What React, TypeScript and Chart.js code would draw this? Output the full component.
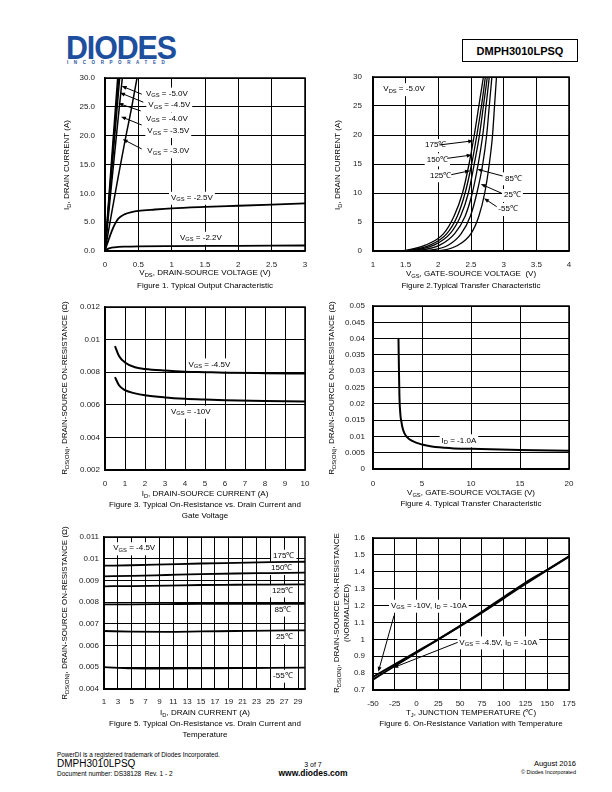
import React, { useEffect, useRef } from "react";
import { Chart, registerables } from "chart.js";
Chart.register(...registerables);

const FONT = "'Liberation Sans', Arial, Helvetica, sans-serif";

// ---------------- Figure 1 data ----------------
const f1XTicks = [0, 0.5, 1, 1.5, 2, 2.5, 3];
const f1XLabels = ["0", "0.5", "1", "1.5", "2", "2.5", "3"];
const f1YTicks = [0, 5, 10, 15, 20, 25, 30];
const f1YLabels = ["0.0", "5.0", "10.0", "15.0", "20.0", "25.0", "30.0"];
const f1VdsGs50 = [0, 0.1, 0.19];
const f1IdGs50 = [0, 16, 30];
const f1VdsGs45 = [0, 0.1, 0.205];
const f1IdGs45 = [0, 14.8, 30];
const f1VdsGs40 = [0, 0.1, 0.22];
const f1IdGs40 = [0, 13.8, 30];
const f1VdsGs35 = [0, 0.1, 0.2, 0.26];
const f1IdGs35 = [0, 11.8, 23.3, 30];
const f1VdsGs30 = [0, 0.1, 0.2, 0.3, 0.4, 0.48];
const f1IdGs30 = [0, 6.6, 13.0, 19.1, 24.9, 30];
const f1VdsGs25 = [0, 0.025, 0.05, 0.1, 0.15, 0.2, 0.3, 0.4, 0.5, 0.75, 1, 1.5, 2, 2.5, 3];
const f1IdGs25 = [0, 1.0, 1.8, 3.4, 4.7, 5.6, 6.4, 6.75, 6.95, 7.2, 7.4, 7.65, 7.85, 8.05, 8.25];
const f1VdsGs22 = [0, 0.025, 0.05, 0.1, 0.2, 0.3, 0.5, 1, 2, 3];
const f1IdGs22 = [0, 0.25, 0.4, 0.58, 0.7, 0.75, 0.8, 0.85, 0.9, 0.95];

// ---------------- Figure 2 data ----------------
const f2XTicks = [1, 1.5, 2, 2.5, 3, 3.5, 4];
const f2XLabels = ["1", "1.5", "2", "2.5", "3", "3.5", "4"];
const f2YTicks = [0, 5, 10, 15, 20, 25, 30];
const f2YLabels = ["0", "5", "10", "15", "20", "25", "30"];
const f2Id = [0, 0.1, 1, 3, 6, 10, 15, 20, 25, 30];
const f2Vgs175 = [1.35, 1.5, 1.8, 2.08, 2.24, 2.37, 2.47, 2.55, 2.62, 2.69];
const f2Vgs150 = [1.4, 1.55, 1.87, 2.13, 2.29, 2.41, 2.51, 2.59, 2.66, 2.72];
const f2Vgs125 = [1.45, 1.6, 1.93, 2.18, 2.34, 2.46, 2.55, 2.63, 2.69, 2.75];
const f2Vgs85 = [1.55, 1.7, 2.02, 2.25, 2.41, 2.52, 2.61, 2.68, 2.73, 2.78];
const f2Vgs25 = [1.7, 1.85, 2.15, 2.35, 2.49, 2.59, 2.68, 2.74, 2.78, 2.82];
const f2VgsM55 = [1.9, 2.05, 2.3, 2.5, 2.62, 2.71, 2.78, 2.83, 2.86, 2.89];

// ---------------- Figure 3 data ----------------
const f3XTicks = [0, 1, 2, 3, 4, 5, 6, 7, 8, 9, 10];
const f3XLabels = ["0", "1", "2", "3", "4", "5", "6", "7", "8", "9", "10"];
const f3YTicks = [0.002, 0.004, 0.006, 0.008, 0.01, 0.012];
const f3YLabels = ["0.002", "0.004", "0.006", "0.008", "0.01", "0.012"];
const f3Id = [0.5, 0.7, 1, 1.5, 2, 3, 4, 5, 6, 8, 10];
const f3RGs45 = [0.0096, 0.009, 0.0086, 0.0083, 0.0082, 0.0081, 0.00803, 0.008, 0.00797, 0.00794, 0.00792];
const f3RGs10 = [0.0077, 0.0072, 0.0069, 0.0067, 0.00658, 0.00645, 0.00637, 0.00632, 0.00628, 0.00624, 0.0062];

// ---------------- Figure 4 data ----------------
const f4XTicks = [0, 5, 10, 15, 20];
const f4XLabels = ["0", "5", "10", "15", "20"];
const f4YTicks = [0, 0.005, 0.01, 0.015, 0.02, 0.025, 0.03, 0.035, 0.04, 0.045, 0.05];
const f4YLabels = ["0", "0.005", "0.01", "0.015", "0.02", "0.025", "0.03", "0.035", "0.04", "0.045", "0.05"];
const f4Vgs = [2.6, 2.65, 2.7, 2.8, 2.9, 3.0, 3.2, 3.5, 4, 5, 6, 8, 10, 15, 20];
const f4R = [0.04, 0.03, 0.022, 0.0165, 0.0145, 0.0128, 0.011, 0.0097, 0.0086, 0.0075, 0.0069, 0.0064, 0.0062, 0.0058, 0.0056];

// ---------------- Figure 5 data ----------------
const f5XTicks = [1, 3, 5, 7, 9, 11, 13, 15, 17, 19, 21, 23, 25, 27, 29];
const f5XLabels = ["1", "3", "5", "7", "9", "11", "13", "15", "17", "19", "21", "23", "25", "27", "29"];
const f5YTicks = [0.004, 0.005, 0.006, 0.007, 0.008, 0.009, 0.01, 0.011];
const f5YLabels = ["0.004", "0.005", "0.006", "0.007", "0.008", "0.009", "0.01", "0.011"];
const f5Id = [1, 5, 10, 15, 20, 25, 30];
const f5R175 = [0.00968, 0.0097, 0.00974, 0.00978, 0.00981, 0.00984, 0.00986];
const f5R150 = [0.00919, 0.00921, 0.00925, 0.00929, 0.00932, 0.00934, 0.00936];
const f5R125 = [0.00873, 0.00874, 0.00876, 0.00879, 0.0088, 0.00881, 0.00882];
const f5R85 = [0.0079, 0.0079, 0.00791, 0.00792, 0.00792, 0.00792, 0.00792];
const f5R25 = [0.00667, 0.00664, 0.00663, 0.00665, 0.00667, 0.00669, 0.0067];
const f5RM55 = [0.00501, 0.00495, 0.00494, 0.00495, 0.00496, 0.00497, 0.00498];

// ---------------- Figure 6 data ----------------
const f6XTicks = [-50, -25, 0, 25, 50, 75, 100, 125, 150, 175];
const f6XLabels = ["-50", "-25", "0", "25", "50", "75", "100", "125", "150", "175"];
const f6YTicks = [0.7, 0.8, 0.9, 1.0, 1.1, 1.2, 1.3, 1.4, 1.5, 1.6];
const f6YLabels = ["0.7", "0.8", "0.9", "1", "1.1", "1.2", "1.3", "1.4", "1.5", "1.6"];
const f6Tj = [-50, -25, 0, 25, 50, 75, 100, 125, 150, 175];
const f6RGs10 = [0.778, 0.852, 0.926, 1.0, 1.078, 1.158, 1.243, 1.328, 1.41, 1.49];
const f6RGs45 = [0.762, 0.842, 0.921, 1.0, 1.08, 1.163, 1.25, 1.335, 1.412, 1.492];

// ---------------- helpers ----------------
type Part = { t: string; sub?: boolean };
type Note = { x: number; y: number; parts: Part[]; bg?: boolean; arrow?: number[] };
type Series = { xs: number[]; ys: number[]; w: number };
type Spec = {
  left: number; top: number; w: number; h: number;
  xMin: number; xMax: number; yMin: number; yMax: number;
  xTicks: number[]; xLabels: string[]; yTicks: number[]; yLabels: string[];
  xPad: number; yPad: number; series: Series[]; notes: Note[];
};

const vgs = (v: string): Part[] => [{ t: "V" }, { t: "GS", sub: true }, { t: " = " + v }];
const temp = (t: string): Part[] => [{ t }];

const NOTE_SIZE = 8;
const PAD_L = 50, PAD_T = 20, PAD_R = 25, PAD_B = 24;

function measureParts(ctx: CanvasRenderingContext2D, parts: Part[]) {
  let w = 0;
  for (const p of parts) {
    ctx.font = `${p.sub ? NOTE_SIZE * 0.72 : NOTE_SIZE}px ${FONT}`;
    w += ctx.measureText(p.t).width;
  }
  return w;
}
function drawParts(ctx: CanvasRenderingContext2D, parts: Part[], x: number, y: number) {
  let cx = x;
  ctx.textBaseline = "middle";
  ctx.textAlign = "left";
  for (const p of parts) {
    ctx.font = `${p.sub ? NOTE_SIZE * 0.72 : NOTE_SIZE}px ${FONT}`;
    ctx.fillText(p.t, cx, p.sub ? y + 2 : y);
    cx += ctx.measureText(p.t).width;
  }
}
function drawArrow(ctx: CanvasRenderingContext2D, x1: number, y1: number, x2: number, y2: number) {
  const a = Math.atan2(y2 - y1, x2 - x1);
  const L = 5, Wd = 2;
  ctx.beginPath();
  ctx.moveTo(x1, y1);
  ctx.lineTo(x2 - Math.cos(a) * L * 0.8, y2 - Math.sin(a) * L * 0.8);
  ctx.stroke();
  ctx.beginPath();
  ctx.moveTo(x2, y2);
  ctx.lineTo(x2 - Math.cos(a) * L - Math.sin(a) * Wd, y2 - Math.sin(a) * L + Math.cos(a) * Wd);
  ctx.lineTo(x2 - Math.cos(a) * L + Math.sin(a) * Wd, y2 - Math.sin(a) * L - Math.cos(a) * Wd);
  ctx.closePath();
  ctx.fill();
}

function notesPlugin(notes: Note[]) {
  return {
    id: "notes",
    beforeDatasetsDraw(chart: any) {
      const ctx: CanvasRenderingContext2D = chart.ctx;
      const xs = chart.scales.x, ys = chart.scales.y;
      const a = chart.chartArea;
      ctx.save();
      ctx.strokeStyle = "#000";
      ctx.lineWidth = 1.5;
      ctx.strokeRect(a.left, a.top, a.right - a.left, a.bottom - a.top);
      ctx.fillStyle = "#fff";
      for (const n of notes) {
        if (!n.bg) continue;
        const px = xs.getPixelForValue(n.x), py = ys.getPixelForValue(n.y);
        const w = measureParts(ctx, n.parts);
        ctx.fillRect(px - 2, py - 6, w + 4, 13);
      }
      ctx.restore();
    },
    afterDatasetsDraw(chart: any) {
      const ctx: CanvasRenderingContext2D = chart.ctx;
      const xs = chart.scales.x, ys = chart.scales.y;
      ctx.save();
      ctx.fillStyle = "#000";
      ctx.strokeStyle = "#000";
      ctx.lineWidth = 1;
      for (const n of notes) {
        if (n.arrow) {
          const [x1, y1, x2, y2] = n.arrow;
          drawArrow(ctx, xs.getPixelForValue(x1), ys.getPixelForValue(y1), xs.getPixelForValue(x2), ys.getPixelForValue(y2));
        }
        drawParts(ctx, n.parts, xs.getPixelForValue(n.x), ys.getPixelForValue(n.y));
      }
      ctx.restore();
    },
  };
}

const tickFont = { family: FONT, size: 8 };

function PlotCanvas({ spec }: { spec: Spec }) {
  const ref = useRef<HTMLCanvasElement>(null);
  const cw = spec.w + PAD_L + PAD_R, ch = spec.h + PAD_T + PAD_B;
  useEffect(() => {
    if (!ref.current) return;
    const chart = new Chart(ref.current, {
      type: "line",
      data: {
        datasets: spec.series.map((s) => ({
          data: s.xs.map((x, i) => ({ x, y: s.ys[i] })),
          borderColor: "#000",
          borderWidth: s.w,
          pointRadius: 0,
          fill: false,
          cubicInterpolationMode: "monotone" as const,
        })),
      },
      options: {
        animation: false,
        responsive: false,
        maintainAspectRatio: false,
        devicePixelRatio: 1,
        events: [],
        layout: { padding: { left: 0, top: PAD_T, right: PAD_R, bottom: 0 } },
        plugins: { legend: { display: false }, tooltip: { enabled: false } },
        scales: {
          x: {
            type: "linear",
            min: spec.xMin,
            max: spec.xMax,
            afterBuildTicks: (s: any) => { s.ticks = spec.xTicks.map((v) => ({ value: v })); },
            afterFit: (s: any) => { s.height = PAD_B; },
            grid: { color: "#000", lineWidth: 1, drawTicks: false },
            border: { color: "#000", width: 1.5 },
            ticks: {
              padding: spec.xPad, color: "#222", font: tickFont, maxRotation: 0, autoSkip: false,
              callback: (_v: any, i: number) => spec.xLabels[i],
            },
          },
          y: {
            type: "linear",
            min: spec.yMin,
            max: spec.yMax,
            afterBuildTicks: (s: any) => { s.ticks = spec.yTicks.map((v) => ({ value: v })); },
            afterFit: (s: any) => { s.width = PAD_L; },
            grid: { color: "#000", lineWidth: 1, drawTicks: false },
            border: { color: "#000", width: 1.5 },
            ticks: {
              padding: spec.yPad, color: "#222", font: tickFont, autoSkip: false,
              callback: (_v: any, i: number) => spec.yLabels[i],
            },
          },
        },
      },
      plugins: [notesPlugin(spec.notes)],
    } as any);
    return () => chart.destroy();
  }, []);
  return (
    <canvas
      ref={ref}
      width={cw}
      height={ch}
      style={{ position: "absolute", left: spec.left - PAD_L, top: spec.top - PAD_T, width: cw, height: ch }}
    />
  );
}

// ---------------- chart specs ----------------
const spec1: Spec = {
  left: 105, top: 78, w: 200, h: 173, xMin: 0, xMax: 3, yMin: 0, yMax: 30,
  xTicks: f1XTicks, xLabels: f1XLabels, yTicks: f1YTicks, yLabels: f1YLabels, xPad: 9, yPad: 10,
  series: [
    { xs: f1VdsGs50, ys: f1IdGs50, w: 1.5 },
    { xs: f1VdsGs45, ys: f1IdGs45, w: 1.5 },
    { xs: f1VdsGs40, ys: f1IdGs40, w: 1.5 },
    { xs: f1VdsGs35, ys: f1IdGs35, w: 1.5 },
    { xs: f1VdsGs30, ys: f1IdGs30, w: 1.5 },
    { xs: f1VdsGs25, ys: f1IdGs25, w: 1.8 },
    { xs: f1VdsGs22, ys: f1IdGs22, w: 1.8 },
  ],
  notes: [
    { x: 0.615, y: 27.3, parts: vgs("-5.0V"), bg: true, arrow: [0.55, 27.2, 0.25, 28.6] },
    { x: 0.65, y: 25.3, parts: vgs("-4.5V"), bg: true, arrow: [0.575, 25.8, 0.225, 27.45] },
    { x: 0.615, y: 23.0, parts: vgs("-4.0V"), bg: true, arrow: [0.535, 24.3, 0.2, 25.6] },
    { x: 0.635, y: 20.8, parts: vgs("-3.5V"), bg: true, arrow: [0.55, 21.85, 0.24, 23.3] },
    { x: 0.635, y: 17.3, parts: vgs("-3.0V"), bg: true, arrow: [0.55, 17.7, 0.265, 19.4] },
    { x: 0.99, y: 9.24, parts: vgs("-2.5V"), bg: true },
    { x: 1.125, y: 2.3, parts: vgs("-2.2V"), bg: true },
  ],
};

const spec2: Spec = {
  left: 373, top: 77, w: 196, h: 174, xMin: 1, xMax: 4, yMin: 0, yMax: 30,
  xTicks: f2XTicks, xLabels: f2XLabels, yTicks: f2YTicks, yLabels: f2YLabels, xPad: 9, yPad: 11,
  series: [
    { xs: f2Vgs175, ys: f2Id, w: 1.3 },
    { xs: f2Vgs150, ys: f2Id, w: 1.3 },
    { xs: f2Vgs125, ys: f2Id, w: 1.3 },
    { xs: f2Vgs85, ys: f2Id, w: 1.3 },
    { xs: f2Vgs25, ys: f2Id, w: 1.3 },
    { xs: f2VgsM55, ys: f2Id, w: 1.3 },
  ],
  notes: [
    { x: 1.158, y: 27.9, parts: [{ t: "V" }, { t: "DS", sub: true }, { t: " = -5.0V" }], bg: true },
    { x: 1.796, y: 18.28, parts: temp("175\u2103"), bg: true, arrow: [2.015, 18.28, 2.535, 19.0] },
    { x: 1.822, y: 15.8, parts: temp("150\u2103"), bg: true, arrow: [2.137, 15.98, 2.511, 16.55] },
    { x: 1.872, y: 13.05, parts: temp("125\u2103"), bg: true, arrow: [2.198, 13.16, 2.485, 13.84] },
    { x: 3.02, y: 12.53, parts: temp("85\u2103"), bg: true, arrow: [2.985, 12.93, 2.597, 14.09] },
    { x: 3.005, y: 9.66, parts: temp("25\u2103"), bg: true, arrow: [2.97, 9.95, 2.649, 11.55] },
    { x: 2.918, y: 7.24, parts: temp("-55\u2103"), bg: true, arrow: [2.893, 7.64, 2.699, 9.09] },
  ],
};

const spec3: Spec = {
  left: 105, top: 307, w: 200, h: 163, xMin: 0, xMax: 10, yMin: 0.002, yMax: 0.012,
  xTicks: f3XTicks, xLabels: f3XLabels, yTicks: f3YTicks, yLabels: f3YLabels, xPad: 9, yPad: 5,
  series: [
    { xs: f3Id, ys: f3RGs45, w: 2 },
    { xs: f3Id, ys: f3RGs10, w: 2 },
  ],
  notes: [
    { x: 4.17, y: 0.00848, parts: vgs("-4.5V"), bg: true },
    { x: 3.3, y: 0.00558, parts: vgs("-10V"), bg: true },
  ],
};

const spec4: Spec = {
  left: 373, top: 306, w: 196, h: 163, xMin: 0, xMax: 20, yMin: 0, yMax: 0.05,
  xTicks: f4XTicks, xLabels: f4XLabels, yTicks: f4YTicks, yLabels: f4YLabels, xPad: 10, yPad: 8,
  series: [{ xs: f4Vgs, ys: f4R, w: 2 }],
  notes: [{ x: 7.0, y: 0.0088, parts: [{ t: "I" }, { t: "D", sub: true }, { t: " = -1.0A" }], bg: true }],
};

const spec5: Spec = {
  left: 104, top: 537, w: 201, h: 152, xMin: 1, xMax: 30, yMin: 0.004, yMax: 0.011,
  xTicks: f5XTicks, xLabels: f5XLabels, yTicks: f5YTicks, yLabels: f5YLabels, xPad: 8, yPad: 5,
  series: [
    { xs: f5Id, ys: f5R175, w: 1.8 },
    { xs: f5Id, ys: f5R150, w: 1.8 },
    { xs: f5Id, ys: f5R125, w: 1.8 },
    { xs: f5Id, ys: f5R85, w: 1.8 },
    { xs: f5Id, ys: f5R25, w: 1.8 },
    { xs: f5Id, ys: f5RM55, w: 1.8 },
  ],
  notes: [
    { x: 2.34, y: 0.01048, parts: vgs("-4.5V"), bg: true },
    { x: 25.4, y: 0.01014, parts: temp("175\u2103"), bg: true },
    { x: 25.1, y: 0.00957, parts: temp("150\u2103"), bg: true },
    { x: 25.25, y: 0.00854, parts: temp("125\u2103"), bg: true },
    { x: 25.6, y: 0.00766, parts: temp("85\u2103"), bg: true },
    { x: 25.8, y: 0.00639, parts: temp("25\u2103"), bg: true },
    { x: 25.4, y: 0.00461, parts: temp("-55\u2103"), bg: true },
  ],
};

const spec6: Spec = {
  left: 373, top: 538, w: 196, h: 152, xMin: -50, xMax: 175, yMin: 0.7, yMax: 1.6,
  xTicks: f6XTicks, xLabels: f6XLabels, yTicks: f6YTicks, yLabels: f6YLabels, xPad: 9, yPad: 8,
  series: [
    { xs: f6Tj, ys: f6RGs10, w: 2 },
    { xs: f6Tj, ys: f6RGs45, w: 2 },
  ],
  notes: [
    {
      x: -29.3, y: 1.199, bg: true, arrow: [-25.9, 1.14, -43.9, 0.808],
      parts: [{ t: "V" }, { t: "GS", sub: true }, { t: " = -10V, I" }, { t: "D", sub: true }, { t: " = -10A" }],
    },
    {
      x: 49.1, y: 0.982, bg: true, arrow: [47.2, 0.982, -26.7, 0.832],
      parts: [{ t: "V" }, { t: "GS", sub: true }, { t: " = -4.5V, I" }, { t: "D", sub: true }, { t: " = -10A" }],
    },
  ],
};

// ---------------- HTML text helpers ----------------
const Sub = ({ children }: { children: React.ReactNode }) => (
  <span style={{ fontSize: "72%", position: "relative", top: "0.3em" }}>{children}</span>
);

function T({
  x, y, children, size = 8, align = "center", bold = false, rotate = false, color = "#000",
}: {
  x: number; y: number; children: React.ReactNode; size?: number; align?: "left" | "center" | "right";
  bold?: boolean; rotate?: boolean; color?: string;
}) {
  const tx = align === "left" ? "0" : align === "right" ? "-100%" : "-50%";
  return (
    <div
      style={{
        position: "absolute", left: x, top: y, whiteSpace: "pre", fontFamily: FONT, fontSize: size,
        fontWeight: bold ? "bold" : "normal", color, lineHeight: 1,
        transform: `translate(${tx}, -50%)${rotate ? " rotate(-90deg)" : ""}`,
        transformOrigin: rotate ? "center center" : undefined,
      }}
    >
      {children}
    </div>
  );
}

const rds = (
  <>
    R<Sub>DS(ON)</Sub>, DRAIN-SOURCE ON-RESISTANCE (Ω)
  </>
);

export default function App() {
  return (
    <div style={{ position: "absolute", left: 0, top: 0, width: 612, height: 792, background: "#fff", overflow: "hidden" }}>
      {/* header */}
      <div
        style={{
          position: "absolute", left: 66, top: 31, fontFamily: FONT, fontWeight: 900, fontSize: 33,
          color: "#1d4f9e", letterSpacing: -1.2, transform: "scaleX(0.92)", transformOrigin: "left top", lineHeight: 1,
        }}
      >
        DIODES
      </div>
      <div
        style={{
          position: "absolute", left: 67, top: 61, fontFamily: FONT, fontWeight: "bold", fontSize: 4.5,
          color: "#1d4f9e", letterSpacing: 5.6, lineHeight: 1,
        }}
      >
        INCORPORATED
      </div>
      <div
        style={{
          position: "absolute", left: 462, top: 39, width: 114, height: 21, border: "1px solid #000",
          fontFamily: FONT, fontWeight: "bold", fontSize: 11, display: "flex", alignItems: "center", justifyContent: "center",
        }}
      >
        DMPH3010LPSQ
      </div>

      <PlotCanvas spec={spec1} />
      <PlotCanvas spec={spec2} />
      <PlotCanvas spec={spec3} />
      <PlotCanvas spec={spec4} />
      <PlotCanvas spec={spec5} />
      <PlotCanvas spec={spec6} />

      {/* figure 1 */}
      <T x={67} y={165} rotate>I<Sub>D</Sub>, DRAIN CURRENT (A)</T>
      <T x={205} y={273}>V<Sub>DS</Sub>, DRAIN-SOURCE VOLTAGE (V)</T>
      <T x={205} y={286}>Figure 1. Typical Output Characteristic</T>
      {/* figure 2 */}
      <T x={338} y={165} rotate>I<Sub>D</Sub>, DRAIN CURRENT (A)</T>
      <T x={471} y={274}>V<Sub>GS</Sub>, GATE-SOURCE VOLTAGE  (V)</T>
      <T x={471} y={286}>Figure 2.Typical Transfer Characteristic</T>
      {/* figure 3 */}
      <T x={65} y={388} rotate>{rds}</T>
      <T x={205} y={494}>I<Sub>D</Sub>, DRAIN-SOURCE CURRENT (A)</T>
      <T x={205} y={505}>Figure 3. Typical On-Resistance vs. Drain Current and</T>
      <T x={205} y={516}>Gate Voltage</T>
      {/* figure 4 */}
      <T x={332} y={388} rotate>{rds}</T>
      <T x={471} y={493}>V<Sub>GS</Sub>, GATE-SOURCE VOLTAGE (V)</T>
      <T x={471} y={504}>Figure 4. Typical Transfer Characteristic</T>
      {/* figure 5 */}
      <T x={65} y={613} rotate>{rds}</T>
      <T x={205} y={713}>I<Sub>D</Sub>, DRAIN CURRENT (A)</T>
      <T x={205} y={724}>Figure 5. Typical On-Resistance vs. Drain Current and</T>
      <T x={205} y={735}>Temperature</T>
      {/* figure 6 */}
      <T x={337} y={613} rotate>R<Sub>DS(ON)</Sub>, DRAIN-SOURCE ON-RESISTANCE</T>
      <T x={347} y={613} rotate>(NORMALIZED)</T>
      <T x={471} y={713}>T<Sub>J</Sub>, JUNCTION TEMPERATURE (℃)</T>
      <T x={471} y={724}>Figure 6. On-Resistance Variation with Temperature</T>

      {/* footer */}
      <T x={57} y={755} size={6.3} align="left">PowerDI is a registered trademark of Diodes Incorporated.</T>
      <T x={57} y={764} size={10} align="left">DMPH3010LPSQ</T>
      <T x={57} y={774} size={6.5} align="left">Document number: DS38128  Rev. 1 - 2</T>
      <T x={313} y={764} size={7}>3 of 7</T>
      <T x={313} y={773} size={8.5} bold>www.diodes.com</T>
      <T x={576} y={764} size={7.5} align="right">August 2016</T>
      <T x={576} y={773} size={5.5} align="right">© Diodes Incorporated</T>
    </div>
  );
}
